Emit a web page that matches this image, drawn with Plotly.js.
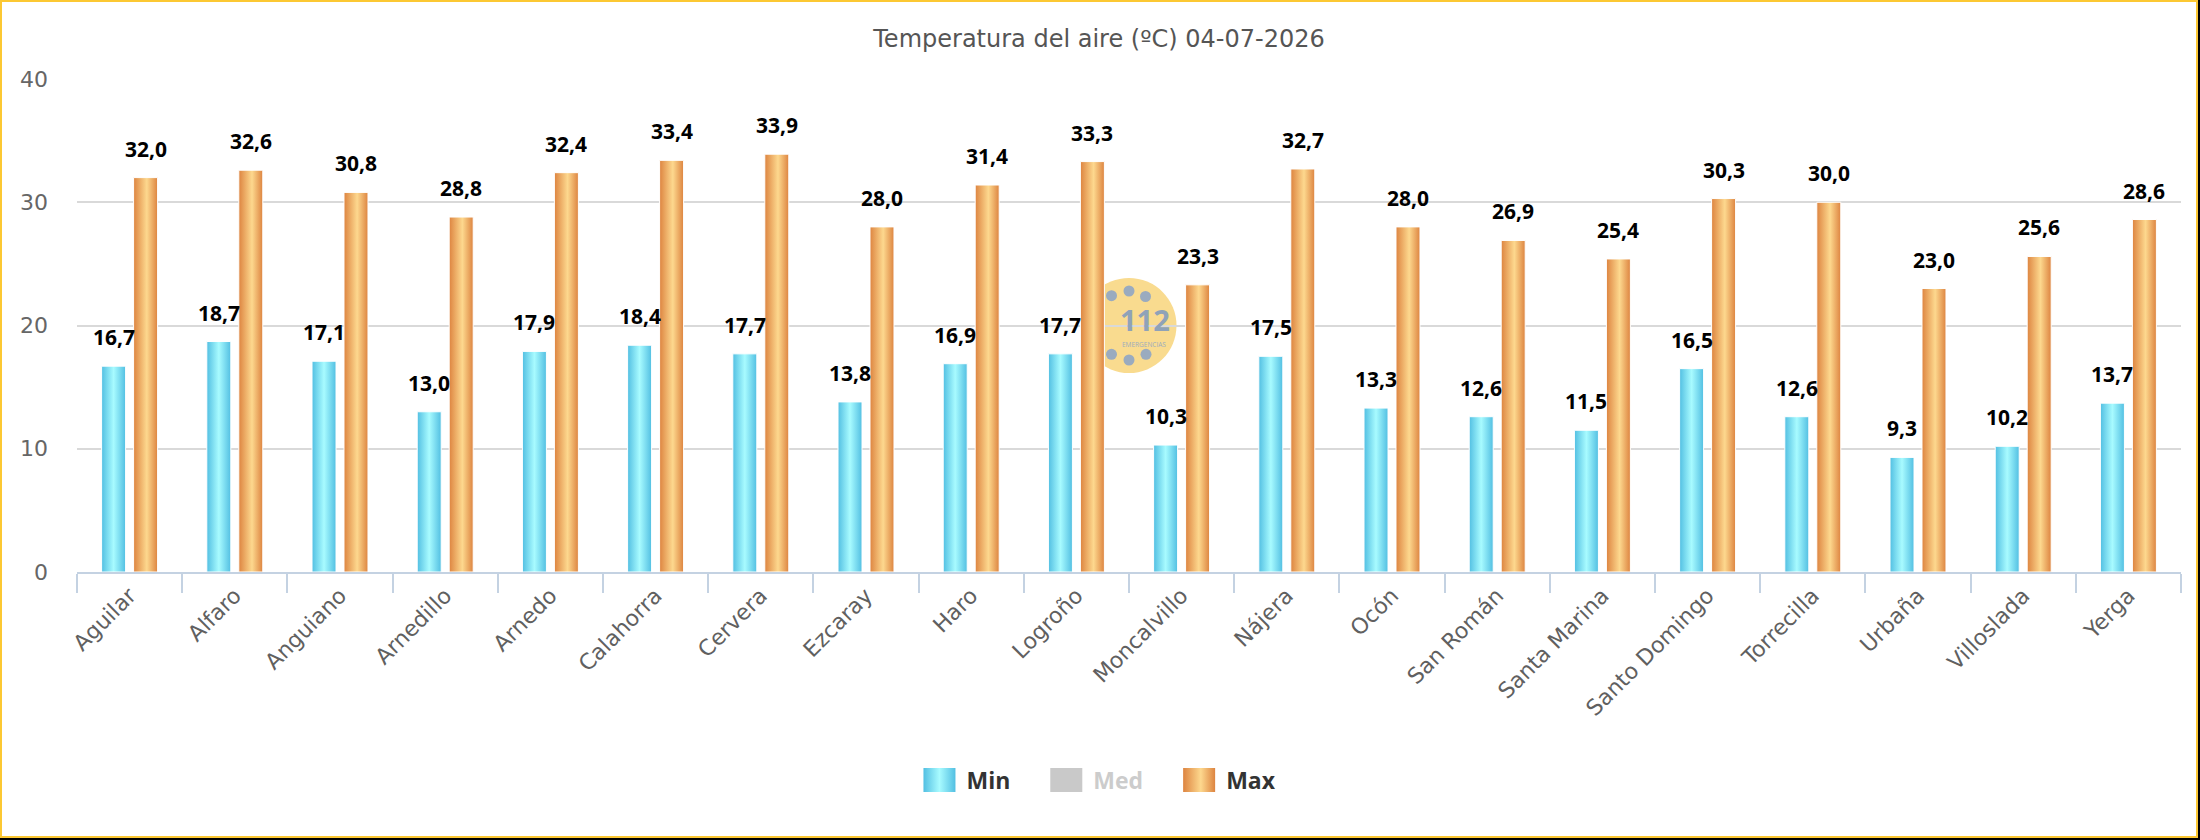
<!DOCTYPE html>
<html>
<head>
<meta charset="utf-8">
<script src="https://cdn.plot.ly/plotly-3.0.1.min.js"></script>
<style>
  html, body { margin: 0; padding: 0; background: #000; }
  #frame { width: 2198px; height: 838px; box-sizing: border-box; border: 2px solid #fcc833; background: #fff; }
  #chart { width: 2194px; height: 834px; }
</style>
</head>
<body>
<div id="frame"><div id="chart"></div></div>
<script>
// Weather stations of La Rioja
const stations = ['Aguilar', 'Alfaro', 'Anguiano', 'Arnedillo', 'Arnedo', 'Calahorra', 'Cervera',
  'Ezcaray', 'Haro', 'Logroño', 'Moncalvillo', 'Nájera', 'Ocón', 'San Román', 'Santa Marina',
  'Santo Domingo', 'Torrecilla', 'Urbaña', 'Villoslada', 'Yerga'];

// Daily air temperature (ºC)
const minTemps = [16.7, 18.7, 17.1, 13.0, 17.9, 18.4, 17.7, 13.8, 16.9, 17.7,
  10.3, 17.5, 13.3, 12.6, 11.5, 16.5, 12.6, 9.3, 10.2, 13.7];
const medTemps = [null, null, null, null, null, null, null, null, null, null,
  null, null, null, null, null, null, null, null, null, null];
const maxTemps = [32.0, 32.6, 30.8, 28.8, 32.4, 33.4, 33.9, 28.0, 31.4, 33.3,
  23.3, 32.7, 28.0, 26.9, 25.4, 30.3, 30.0, 23.0, 25.6, 28.6];

const yTicks = [0, 10, 20, 30, 40];
const chartTitle = 'Temperatura del aire (ºC) 04-07-2026';

const SANS = 'DejaVu Sans, Verdana, sans-serif';
const BOLD = 'Open Sans, DejaVu Sans, sans-serif';
const fmt = v => v.toFixed(1).replace('.', ',');

const traces = [
  { type: 'bar', name: 'Min', x: stations, y: minTemps,
    marker: { color: '#5ec8e6', line: { color: '#ffffff', width: 1 } }, hoverinfo: 'none' },
  { type: 'bar', name: 'Med', x: stations, y: medTemps, visible: 'legendonly',
    marker: { color: '#939393', line: { color: '#ffffff', width: 1 } }, hoverinfo: 'none' },
  { type: 'bar', name: 'Max', x: stations, y: maxTemps,
    marker: { color: '#eaa25c', line: { color: '#ffffff', width: 1 } }, hoverinfo: 'none' }
];

// value labels above each bar
const annotations = [];
function addLabels(values, shift) {
  values.forEach((v, i) => {
    annotations.push({
      x: stations[i], y: v, xref: 'x', yref: 'y', xshift: shift, yshift: 29,
      yanchor: 'middle', xanchor: 'center', showarrow: false, text: fmt(v),
      font: { family: BOLD, size: 21, color: '#000000', weight: 'bold' }
    });
  });
}
addLabels(minTemps, -16);
addLabels(maxTemps, 16);

// 112 emblem in the middle of the plot area
const emblemDots = '#9aabbf';
annotations.push({
  xref: 'paper', yref: 'paper', x: 0.5, y: 0.5, xshift: 16, yshift: 6.5,
  showarrow: false, text: '112', font: { family: BOLD, size: 29, color: '#8fa2b8', weight: 'bold' }
});
annotations.push({
  xref: 'paper', yref: 'paper', x: 0.5, y: 0.5, xshift: 15, yshift: -19,
  showarrow: false, text: 'EMERGENCIAS', font: { family: BOLD, size: 6.5, color: '#9aabbf' }
});

const shapes = [{
  type: 'circle', xref: 'paper', yref: 'paper', xsizemode: 'pixel', ysizemode: 'pixel',
  xanchor: 0.5, yanchor: 0.5, x0: -47.5, x1: 47.5, y0: -47.5, y1: 47.5,
  fillcolor: '#f9db8f', line: { width: 0 }, layer: 'below'
}];
[[-17.5, 29.8], [0, 34.5], [16.5, 29], [-17.5, -28.8], [0, -34.5], [17, -28.8]].forEach(([dx, dy]) => {
  shapes.push({
    type: 'circle', xref: 'paper', yref: 'paper', xsizemode: 'pixel', ysizemode: 'pixel',
    xanchor: 0.5, yanchor: 0.5, x0: dx - 5.5, x1: dx + 5.5, y0: dy - 5.5, y1: dy + 5.5,
    fillcolor: emblemDots, line: { width: 0 }, layer: 'below'
  });
});

const layout = {
  width: 2194, height: 834,
  margin: { l: 75, r: 15, t: 77, b: 264 },
  paper_bgcolor: '#ffffff', plot_bgcolor: '#ffffff',
  title: {
    text: chartTitle, x: 0.5, xanchor: 'center', xref: 'container',
    y: 1 - 37 / 834, yanchor: 'middle', yref: 'container',
    font: { family: SANS, size: 24, color: '#555555' }
  },
  barmode: 'group', bargap: 0.392, bargroupgap: 0.25,
  xaxis: {
    type: 'category', tickangle: -45, tickson: 'boundaries', ticks: 'outside',
    ticklen: 19, tickwidth: 2, tickcolor: '#c4d2e2',
    showline: true, linecolor: '#c4d2e2', linewidth: 2, showgrid: false,
    tickfont: { family: SANS, size: 22, color: '#606060' }
  },
  yaxis: {
    range: [0, 40], tickvals: yTicks, ticktext: yTicks.map(String), ticks: '',
    showgrid: true, gridcolor: '#d9d9d9', gridwidth: 2, zeroline: false, showline: false,
    ticklabelstandoff: 28,
    tickfont: { family: SANS, size: 22, color: '#666666' }
  },
  showlegend: true,
  legend: {
    orientation: 'h', xref: 'container', yref: 'container', x: 0.4936, xanchor: 'center',
    y: 1 - 778 / 834, yanchor: 'middle', itemwidth: 68,
    font: { family: BOLD, size: 23, color: '#333333', weight: 'bold' },
    itemclick: false, itemdoubleclick: false
  },
  annotations: annotations,
  shapes: shapes
};

const gradients = {
  Min: [['0', '#52bfe2'], ['0.5', '#a8fbff'], ['1', '#52bfe2']],
  Max: [['0', '#dd8440'], ['0.55', '#fdd88e'], ['1', '#dd8440']]
};

function addGradients(gd) {
  const svgNS = 'http://www.w3.org/2000/svg';
  const defs = gd.querySelector('.main-svg defs');
  if (!defs) return;
  Object.keys(gradients).forEach(name => {
    const id = 'grad' + name;
    if (defs.querySelector('#' + id)) return;
    const lg = document.createElementNS(svgNS, 'linearGradient');
    lg.setAttribute('id', id);
    lg.setAttribute('x1', '0'); lg.setAttribute('y1', '0');
    lg.setAttribute('x2', '1'); lg.setAttribute('y2', '0');
    gradients[name].forEach(([off, col]) => {
      const st = document.createElementNS(svgNS, 'stop');
      st.setAttribute('offset', off);
      st.setAttribute('stop-color', col);
      lg.appendChild(st);
    });
    defs.appendChild(lg);
  });
}

function traceName(el) {
  const d = el.__data__;
  if (!d) return null;
  const first = Array.isArray(d) ? d[0] : d;
  if (first && first.trace) return first.trace.name;
  if (Array.isArray(first) && first[0] && first[0].trace) return first[0].trace.name;
  return null;
}

function styleChart(gd) {
  addGradients(gd);
  gd.querySelectorAll('.barlayer .trace').forEach(g => {
    const name = traceName(g);
    if (gradients[name]) {
      g.querySelectorAll('path').forEach(p => p.style.setProperty('fill', 'url(#grad' + name + ')'));
    }
  });
  // larger legend swatches, 11px left of each label
  gd.querySelectorAll('.legend .traces').forEach(g => {
    const name = traceName(g);
    const text = g.querySelector('.legendtext');
    const textX = text ? parseFloat(text.getAttribute('x')) || 78 : 78;
    g.querySelectorAll('.legendpoints path').forEach(sw => {
      const right = textX - 11, left = right - 32;
      sw.removeAttribute('transform');
      sw.setAttribute('d', `M${right},12H${left}V-12H${right}Z`);
      sw.style.setProperty('stroke-width', '0');
      if (gradients[name]) sw.style.setProperty('fill', 'url(#grad' + name + ')');
    });
    if (name === 'Med' && text) text.style.setProperty('fill', '#999999');
  });
}

const gd = document.getElementById('chart');
Plotly.newPlot(gd, traces, layout, { displayModeBar: false, staticPlot: true }).then(() => {
  styleChart(gd);
  gd.on('plotly_afterplot', () => styleChart(gd));
  [50, 200, 600].forEach(t => setTimeout(() => styleChart(gd), t));
});
</script>
</body>
</html>
